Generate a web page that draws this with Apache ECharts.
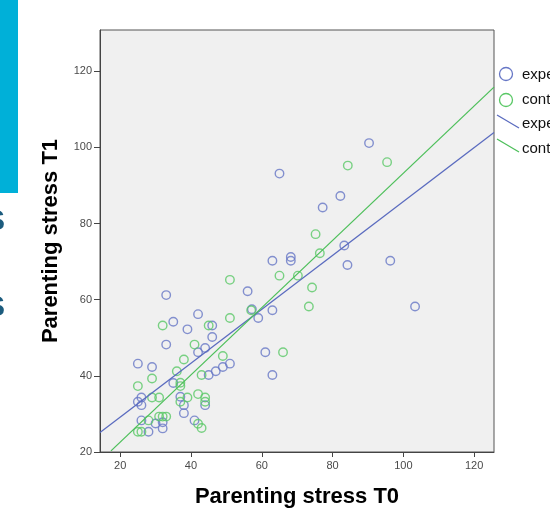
<!DOCTYPE html>
<html>
<head>
<meta charset="utf-8">
<script src="https://cdn.jsdelivr.net/npm/echarts@6/dist/echarts.min.js"></script>
<style>html,body{margin:0;padding:0;background:#fff;}#c{width:550px;height:510px;}</style>
</head>
<body>
<div id="c"></div>
<script>
// ---- data ----
const xTicks = [20, 40, 60, 80, 100, 120];
const yTicks = [20, 40, 60, 80, 100, 120];
const legendNames = ['experimental', 'control'];
const expPoints = [
  [63,70.2],[63,57.2],[63,40.2],[56,62.2],[57.2,57.5],[59,55.2],[61,46.2],
  [33,61.2],[35,54.2],[42,56.2],[39,52.2],[46,53.2],[46,50.2],[33,48.2],
  [42,46.2],[44,47.3],[25,43.2],[29,42.3],[51,43.2],[49,42.3],[47,41.2],[45,40.2],
  [35,38.1],[37,34.5],[26,34.3],[25,33.2],[26,32.3],[38,32.3],[44,32.3],
  [38,30.2],[26,28.3],[30,27.5],[32,27.8],[32,26.2],[28,25.3],[41,28.3],
  [65,93.1],[90.3,101.1],[82.2,87.2],[77.2,84.2],[68.2,71.2],[68.2,70.2],
  [84.2,69.1],[96.3,70.2],[103.3,58.2],[83.3,74.2]
];
const conPoints = [
  [51,65.2],[51,55.2],[57,57.2],[65,66.3],[66,46.2],[32,53.2],[45,53.2],
  [41,48.2],[38,44.3],[49,45.2],[36,41.2],[43,40.2],[25,37.3],[29,39.3],
  [37,38.2],[37,37.3],[29,34.3],[31,34.3],[39,34.3],[37,33.2],[42,35.2],
  [44,34.3],[44,33.2],[31,29.3],[32,29.3],[33,29.3],[28,28.3],[25,25.3],
  [26,25.3],[42,27.4],[43,26.3],[84.3,95.2],[95.4,96.1],[75.2,77.2],
  [76.4,72.2],[70.2,66.3],[74.2,63.2],[73.3,58.2]
];
const expFit = [[14.3,25.1],[125.6,103.9]];
const conFit = [[17.4,20.3],[125.6,115.8]];

const BLUE = '#6777c6';
const GREEN = '#5ac866';
const BLUE_L = '#5a6bbf';
const GREEN_L = '#4dbf5a';

const chart = echarts.init(document.getElementById('c'), null, {renderer: 'canvas'});
const axisLabelStyle = {fontSize: 11, color: '#4a4a4a', fontFamily: 'Liberation Sans, Arial, sans-serif'};
const nameStyle = {fontSize: 22, fontWeight: 'bold', color: '#000', fontFamily: 'Liberation Sans, Arial, sans-serif'};

chart.setOption({
  animation: false,
  backgroundColor: '#fff',
  grid: {left: 100, right: 56, top: 30, bottom: 58, outerBoundsMode: 'none', containLabel: false,
         show: true, backgroundColor: '#f0f0f0', borderColor: '#555', borderWidth: 1},
  xAxis: {
    type: 'value', min: 14.3, max: 125.6,
    name: 'Parenting stress T0', nameLocation: 'middle', nameGap: 34, nameTextStyle: nameStyle,
    axisLine: {show: true, lineStyle: {color: '#444'}},
    axisTick: {show: true, length: 5, lineStyle: {color: '#444'}, customValues: xTicks},
    axisLabel: Object.assign({customValues: xTicks, margin: 8}, axisLabelStyle),
    splitLine: {show: false}
  },
  yAxis: {
    type: 'value', min: 20, max: 130.8,
    name: 'Parenting stress T1', nameLocation: 'middle', nameGap: 38, nameTextStyle: nameStyle,
    axisLine: {show: true, lineStyle: {color: '#444'}},
    axisTick: {show: true, length: 6, lineStyle: {color: '#444'}, customValues: yTicks},
    axisLabel: Object.assign({customValues: yTicks, margin: 8}, axisLabelStyle),
    splitLine: {show: false}
  },
  series: [
    {name: legendNames[0], type: 'scatter', data: expPoints, symbol: 'circle', symbolSize: 8.5,
     itemStyle: {color: 'transparent', borderColor: BLUE, borderWidth: 1.4}},
    {name: legendNames[1], type: 'scatter', data: conPoints, symbol: 'circle', symbolSize: 8.5,
     itemStyle: {color: 'transparent', borderColor: GREEN, borderWidth: 1.4}},
    {type: 'line', data: expFit, showSymbol: false, symbol: 'none', lineStyle: {color: BLUE_L, width: 1.3}, z: 3},
    {type: 'line', data: conFit, showSymbol: false, symbol: 'none', lineStyle: {color: GREEN_L, width: 1.3}, z: 3}
  ],
  graphic: [
    {type: 'rect', shape: {x: 0, y: 0, width: 18, height: 193}, style: {fill: '#00b0d8'}},
    {type: 'text', x: -15, y: 207, style: {text: 'S', font: 'bold 30px Liberation Sans, Arial', fill: '#1c5c7e'}},
    {type: 'text', x: -15, y: 293, style: {text: 'S', font: 'bold 30px Liberation Sans, Arial', fill: '#1c5c7e'}},
    {type: 'circle', shape: {cx: 506, cy: 74, r: 6.5}, style: {fill: 'transparent', stroke: BLUE, lineWidth: 1.3}},
    {type: 'circle', shape: {cx: 506, cy: 100, r: 6.5}, style: {fill: 'transparent', stroke: GREEN, lineWidth: 1.3}},
    {type: 'line', shape: {x1: 497, y1: 115, x2: 519, y2: 128}, style: {stroke: BLUE_L, lineWidth: 1.3}},
    {type: 'line', shape: {x1: 497, y1: 139, x2: 519, y2: 152}, style: {stroke: GREEN_L, lineWidth: 1.3}},
    {type: 'text', x: 522, y: 75, style: {text: legendNames[0], font: '15px Liberation Sans, Arial', fill: '#111', verticalAlign: 'middle'}},
    {type: 'text', x: 522, y: 100, style: {text: legendNames[1], font: '15px Liberation Sans, Arial', fill: '#111', verticalAlign: 'middle'}},
    {type: 'text', x: 522, y: 124, style: {text: legendNames[0], font: '15px Liberation Sans, Arial', fill: '#111', verticalAlign: 'middle'}},
    {type: 'text', x: 522, y: 149, style: {text: legendNames[1], font: '15px Liberation Sans, Arial', fill: '#111', verticalAlign: 'middle'}}
  ]
});
</script>
</body>
</html>
